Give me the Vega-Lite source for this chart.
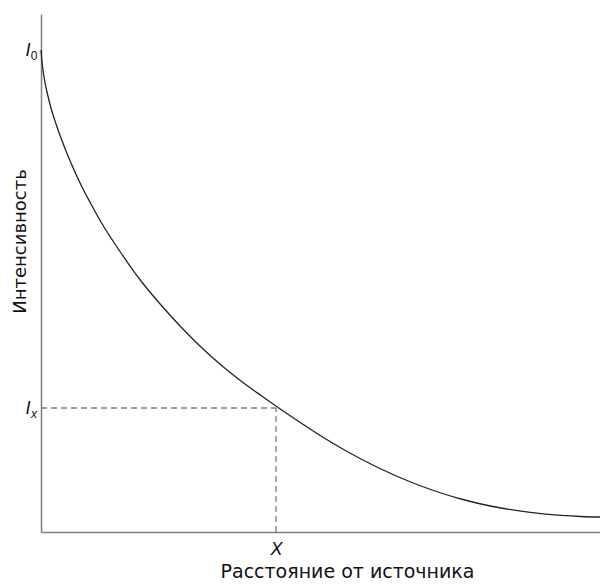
{
  "$schema": "https://vega.github.io/schema/vega-lite/v6.json",
  "width": 559,
  "height": 518,
  "autosize": "none",
  "padding": {"left": 41, "top": 14, "right": 0, "bottom": 52},
  "background": "white",
  "config": {
    "view": {"stroke": null},
    "font": "DejaVu Sans",
    "axis": {"grid": false, "ticks": false, "tickSize": 0, "domainColor": "#7f7f7f", "domainWidth": 1.5, "labelColor": "#111", "titleColor": "#111", "titleFontWeight": "normal"}
  },
  "datasets": {
    "curve": [
      {"d": 0, "i": 482}, {"d": 1, "i": 470}, {"d": 3, "i": 455}, {"d": 6, "i": 440},
      {"d": 10, "i": 424}, {"d": 15, "i": 408}, {"d": 20, "i": 394}, {"d": 25, "i": 381},
      {"d": 30, "i": 369}, {"d": 40, "i": 347}, {"d": 50, "i": 328},
      {"d": 60, "i": 310}, {"d": 80, "i": 279}, {"d": 100, "i": 251}, {"d": 120, "i": 227},
      {"d": 140, "i": 205}, {"d": 160, "i": 185}, {"d": 180, "i": 167}, {"d": 200, "i": 151},
      {"d": 220, "i": 136.5}, {"d": 240, "i": 122.5}, {"d": 260, "i": 109}, {"d": 280, "i": 96},
      {"d": 300, "i": 84}, {"d": 320, "i": 73}, {"d": 340, "i": 63}, {"d": 360, "i": 54},
      {"d": 380, "i": 46}, {"d": 400, "i": 39}, {"d": 420, "i": 33}, {"d": 440, "i": 28},
      {"d": 460, "i": 24}, {"d": 480, "i": 20.8}, {"d": 500, "i": 18.4}, {"d": 520, "i": 16.6},
      {"d": 540, "i": 15.5}, {"d": 559, "i": 15}
    ],
    "guides": [
      {"x1": 0, "x2": 235, "y1": 124, "y2": 124},
      {"x1": 235, "x2": 235, "y1": 0, "y2": 124}
    ],
    "sub0": [{"d": -7, "i": 476, "t": "0"}],
    "subx": [{"d": -7, "i": 118, "t": "x"}]
  },
  "layer": [
    {
      "data": {"name": "guides"},
      "mark": {"type": "rule", "strokeDash": [6, 4], "color": "#7f7f7f", "strokeWidth": 1.3},
      "encoding": {
        "x": {"field": "x1", "type": "quantitative", "scale": {"domain": [0, 559], "nice": false, "zero": false},
          "axis": {"values": [235], "labelExpr": "'X'", "labelFont": "Liberation Sans", "labelFontStyle": "italic", "labelFontSize": 18, "labelPadding": 8, "labelBaseline": "top",
            "title": "Расстояние от источника", "titleFontSize": 19, "titleX": 306, "titleY": 45, "titleBaseline": "alphabetic", "titleAlign": "center"}},
        "x2": {"field": "x2"},
        "y": {"field": "y1", "type": "quantitative", "scale": {"domain": [0, 518], "nice": false, "zero": false},
          "axis": {"values": [482, 124], "labelExpr": "'I'", "labelFont": "Liberation Sans", "labelFontStyle": "italic", "labelFontSize": 18, "labelPadding": 11,
            "title": "Интенсивность", "titleFontSize": 18, "titleX": -21, "titleY": 227, "titleAlign": "center", "titleBaseline": "middle"}},
        "y2": {"field": "y2"}
      }
    },
    {
      "data": {"name": "curve"},
      "mark": {"type": "line", "interpolate": "monotone", "color": "#222", "strokeWidth": 1.3},
      "encoding": {
        "x": {"field": "d", "type": "quantitative"},
        "y": {"field": "i", "type": "quantitative"}
      }
    },
    {
      "data": {"name": "sub0"},
      "mark": {"type": "text", "font": "Liberation Sans", "fontSize": 12, "align": "center", "baseline": "middle", "clip": false, "color": "#111"},
      "encoding": {
        "x": {"field": "d", "type": "quantitative"},
        "y": {"field": "i", "type": "quantitative"},
        "text": {"field": "t"}
      }
    },
    {
      "data": {"name": "subx"},
      "mark": {"type": "text", "font": "Liberation Sans", "fontSize": 12, "fontStyle": "italic", "align": "center", "baseline": "middle", "clip": false, "color": "#111"},
      "encoding": {
        "x": {"field": "d", "type": "quantitative"},
        "y": {"field": "i", "type": "quantitative"},
        "text": {"field": "t"}
      }
    }
  ]
}
